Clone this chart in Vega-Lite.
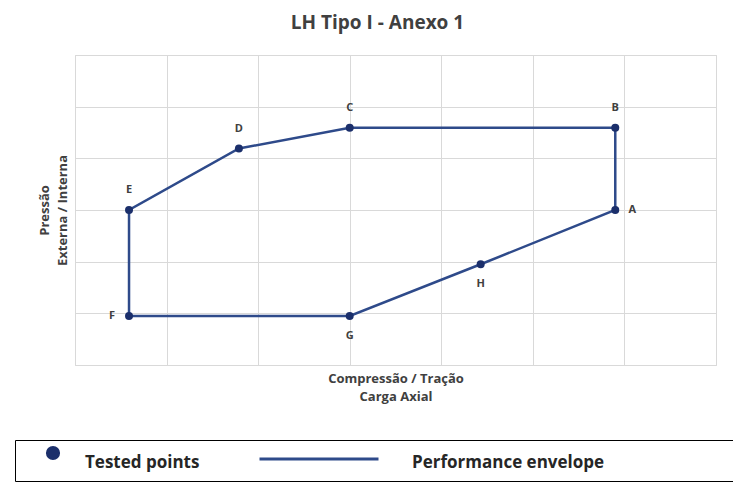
{
  "$schema": "https://vega.github.io/schema/vega-lite/v6.json",
  "width": 641,
  "height": 310,
  "autosize": "none",
  "padding": {"left": 75, "top": 55, "right": 17, "bottom": 120},
  "background": "white",
  "title": {"text": "LH Tipo I - Anexo 1", "font": "Open Sans", "fontSize": 19, "fontWeight": "bold", "color": "#404040", "anchor": "middle", "frame": "group", "offset": 22, "dx": -18},
  "config": {
    "view": {"stroke": "#d9d9d9", "strokeWidth": 1},
    "axis": {"labels": false, "ticks": false, "domain": false, "grid": true, "gridColor": "#d9d9d9", "gridWidth": 1, "titleFont": "Open Sans", "titleFontSize": 13, "titleFontWeight": "bold", "titleColor": "#404040", "titleLineHeight": 18}
  },
  "data": {"values": [
    {"ponto": "A", "carga": 5.9, "pressao": 3.0},
    {"ponto": "B", "carga": 5.9, "pressao": 4.59},
    {"ponto": "C", "carga": 3.0, "pressao": 4.59},
    {"ponto": "D", "carga": 1.79, "pressao": 4.19},
    {"ponto": "E", "carga": 0.59, "pressao": 3.0},
    {"ponto": "F", "carga": 0.59, "pressao": 0.95},
    {"ponto": "G", "carga": 3.0, "pressao": 0.95},
    {"ponto": "H", "carga": 4.43, "pressao": 1.95}
  ]},
  "encoding": {
    "x": {"field": "carga", "type": "quantitative", "scale": {"domain": [0, 7], "nice": false, "zero": false}, "axis": {"values": [0, 1, 2, 3, 4, 5, 6, 7], "title": ["Compressão / Tração", "Carga Axial"], "titlePadding": 7}},
    "y": {"field": "pressao", "type": "quantitative", "scale": {"domain": [0, 6], "nice": false, "zero": false}, "axis": {"values": [0, 1, 2, 3, 4, 5, 6], "title": ["Pressão", "Externa / Interna"], "titlePadding": 6}}
  },
  "layer": [
    {
      "mark": {"type": "line", "interpolate": "linear-closed", "strokeWidth": 2.5},
      "encoding": {
        "order": {"field": "ponto"},
        "color": {"datum": "Performance envelope", "scale": {"domain": ["Tested points", "Performance envelope"], "range": ["#1b2f6b", "#2e4a8a"]},
          "legend": {
            "orient": "none", "legendX": -60, "legendY": 385, "direction": "horizontal",
            "title": " ", "titleOrient": "right", "titlePadding": 122,
            "strokeColor": "#000000", "fillColor": "white", "padding": 10,
            "labelFont": "Open Sans", "labelFontSize": 17, "labelFontWeight": "bold", "labelColor": "#262626", "labelLimit": 400,
            "labelOffset": 30, "columnPadding": 53,
            "encode": {
              "symbols": {"update": {
                "shape": {"signal": "datum.value === 'Tested points' ? 'circle' : 'stroke'"},
                "size": {"signal": "datum.value === 'Tested points' ? 200 : 14161"},
                "strokeWidth": {"signal": "datum.value === 'Tested points' ? 0 : 3"},
                "x": {"signal": "datum.value === 'Tested points' ? 28 : 60"},
                "y": {"signal": "datum.value === 'Tested points' ? 3 : 9"},
                "opacity": {"value": 1}
              }},
              "labels": {"update": {
                "x": {"signal": "datum.value === 'Tested points' ? 60 : 153"},
                "y": {"value": 13},
                "opacity": {"value": 1}
              }}
            }
          }
        }
      }
    },
    {
      "mark": {"type": "point", "filled": true, "size": 64, "opacity": 1},
      "encoding": {
        "color": {"datum": "Tested points"}
      }
    },
    {
      "transform": [{"filter": {"field": "ponto", "oneOf": ["B", "C", "D", "E"]}}],
      "mark": {"type": "text", "font": "Open Sans", "fontSize": 11, "fontWeight": "bold", "color": "#404040", "dy": -20, "baseline": "middle"},
      "encoding": {"text": {"field": "ponto"}}
    },
    {
      "transform": [{"filter": {"field": "ponto", "oneOf": ["G", "H"]}}],
      "mark": {"type": "text", "font": "Open Sans", "fontSize": 11, "fontWeight": "bold", "color": "#404040", "dy": 20, "baseline": "middle"},
      "encoding": {"text": {"field": "ponto"}}
    },
    {
      "transform": [{"filter": {"field": "ponto", "equal": "F"}}],
      "mark": {"type": "text", "font": "Open Sans", "fontSize": 11, "fontWeight": "bold", "color": "#404040", "dx": -17, "baseline": "middle"},
      "encoding": {"text": {"field": "ponto"}}
    },
    {
      "transform": [{"filter": {"field": "ponto", "equal": "A"}}],
      "mark": {"type": "text", "font": "Open Sans", "fontSize": 11, "fontWeight": "bold", "color": "#404040", "dx": 17, "baseline": "middle"},
      "encoding": {"text": {"field": "ponto"}}
    }
  ]
}
